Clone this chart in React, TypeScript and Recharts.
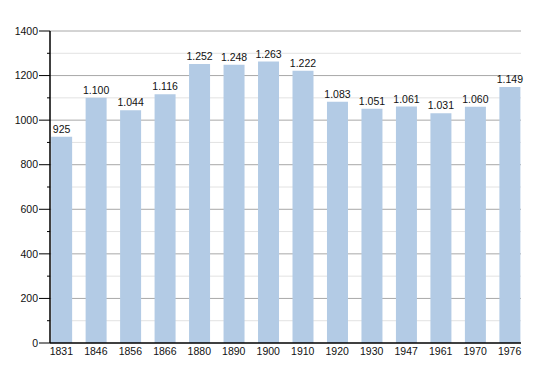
import React from 'react';
import { BarChart, Bar, XAxis, YAxis, CartesianGrid, LabelList } from 'recharts';

const years = ['1831', '1846', '1856', '1866', '1880', '1890', '1900', '1910', '1920', '1930', '1947', '1961', '1970', '1976'];
const population = [925, 1100, 1044, 1116, 1252, 1248, 1263, 1222, 1083, 1051, 1061, 1031, 1060, 1149];
const yTicks = [0, 100, 200, 300, 400, 500, 600, 700, 800, 900, 1000, 1100, 1200, 1300, 1400];
const majorGrid = [200, 400, 600, 800, 1000, 1200, 1400];
const minorGrid = [100, 300, 500, 700, 900, 1100, 1300];

const data = years.map((year, i) => ({ idx: i, year, value: population[i] }));
const xTicks = data.map((d) => d.idx);

const FONT = '"Liberation Sans", Arial, sans-serif';

// dotted thousands separator, e.g. 1.100
const formatValue = (v: number) =>
  v >= 1000 ? `${Math.floor(v / 1000)}.${String(v % 1000).padStart(3, '0')}` : String(v);

// major ticks get a label and a long mark, minor ones only a short mark
function YTick(props: any) {
  const { x, y, payload } = props;
  const major = payload.value % 200 === 0;
  return (
    <g>
      <line x1={major ? x + 1 : x + 9} x2={x + 12} y1={y} y2={y} stroke="#000" strokeWidth={1} />
      {major && (
        <text x={x} y={y} dy="0.35em" textAnchor="end" fontSize={10.5} fill="#111" fontFamily={FONT}>
          {payload.value}
        </text>
      )}
    </g>
  );
}

export default function App() {
  return (
    <div style={{ position: 'absolute', left: 0, top: 0, background: '#fff' }}>
      <BarChart width={550} height={373} data={data} margin={{ top: 31, right: 29, left: 0, bottom: 9 }}>
        <CartesianGrid vertical={false} horizontalValues={minorGrid} stroke="#e2e2e2" />
        <CartesianGrid vertical={false} horizontalValues={majorGrid} stroke="#a8a8a8" />
        <XAxis
          type="number"
          dataKey="idx"
          domain={[-0.33, 13.33]}
          ticks={xTicks}
          allowDataOverflow
          tickFormatter={(i: number) => years[i]}
          tickLine={false}
          tickSize={0}
          tickMargin={5}
          height={21}
          axisLine={{ stroke: '#000', strokeWidth: 1.5 }}
          tick={{ fontSize: 10.5, fill: '#111', fontFamily: FONT }}
        />
        <YAxis
          domain={[0, 1400]}
          ticks={yTicks}
          interval={0}
          width={50}
          tickLine={false}
          tickSize={10}
          tickMargin={2}
          axisLine={{ stroke: '#000', strokeWidth: 1.5 }}
          tick={<YTick />}
        />
        <Bar dataKey="value" fill="#b3cbe5" barSize={21} isAnimationActive={false}>
          <LabelList
            dataKey="value"
            position="top"
            offset={4}
            formatter={(v: any) => formatValue(Number(v))}
            style={{ fontSize: 10.5, fill: '#111', fontFamily: FONT }}
          />
        </Bar>
      </BarChart>
    </div>
  );
}
